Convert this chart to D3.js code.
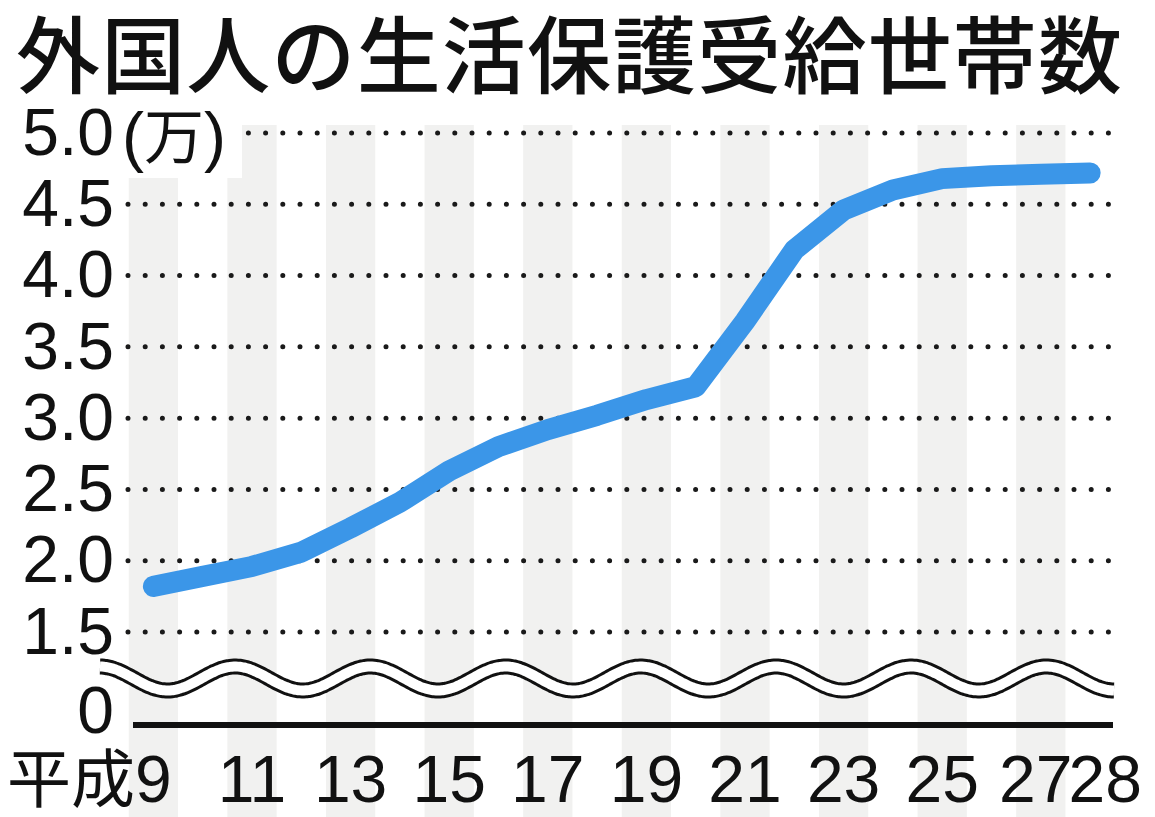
<!DOCTYPE html>
<html>
<head>
<meta charset="utf-8">
<script src="https://cdn.jsdelivr.net/npm/d3@7"></script>
<style>
  body { margin: 0; background: #fff; }
  svg { display: block; }
</style>
</head>
<body>
<svg></svg>
<script>
// 平成9〜28年, 外国人の生活保護受給世帯数 (万)
const years = [9, 10, 11, 12, 13, 14, 15, 16, 17, 18, 19, 20, 21, 22, 23, 24, 25, 26, 27, 28];
const households = [1.82, 1.89, 1.96, 2.06, 2.23, 2.41, 2.63, 2.80, 2.92, 3.02,
                    3.13, 3.22, 3.68, 4.18, 4.46, 4.60, 4.68, 4.70, 4.71, 4.72];
const yTicks = [1.5, 2.0, 2.5, 3.0, 3.5, 4.0, 4.5, 5.0];
const xLabelYears = [9, 11, 13, 15, 17, 19, 21, 23, 25, 27, 28];
const title = "外国人の生活保護受給世帯数";
const unitLabel = "万";
const eraLabel = "平成";

const width = 1155, height = 817;
const numFont = "'Liberation Sans', Arial, sans-serif";
const cjkFont = "'Noto Sans CJK JP', 'Noto Sans CJK SC', sans-serif";

const svg = d3.select("svg")
    .attr("width", width)
    .attr("height", height);

const x = d3.scaleBand()
    .domain(years)
    .range([128.75, 1114.75])
    .padding(0);
const xc = d => x(d) + x.bandwidth() / 2;

const y = d3.scaleLinear()
    .domain([1.5, 5.0])
    .range([632, 133]);

const zeroY = 725;

// alternating stripes on odd years
svg.append("g")
    .selectAll("rect")
    .data(years.filter(d => d % 2 === 1))
    .join("rect")
    .attr("x", d => x(d))
    .attr("y", 125)
    .attr("width", x.bandwidth())
    .attr("height", height - 125)
    .attr("fill", "#f1f1f0");

// dotted gridlines
svg.append("g")
    .selectAll("line")
    .data(yTicks)
    .join("line")
    .attr("x1", 128)
    .attr("x2", 1112)
    .attr("y1", d => y(d))
    .attr("y2", d => y(d))
    .attr("stroke", "#1a1a1a")
    .attr("stroke-width", 5)
    .attr("stroke-linecap", "round")
    .attr("stroke-dasharray", "0 17.2");

// white box behind the unit label
svg.append("rect")
    .attr("x", 118)
    .attr("y", 100)
    .attr("width", 124)
    .attr("height", 78)
    .attr("fill", "#fff");

// title
svg.append("text")
    .attr("x", 16)
    .attr("y", 87)
    .attr("font-family", cjkFont)
    .attr("font-weight", 500)
    .attr("font-size", 84)
    .attr("textLength", 1106)
    .attr("lengthAdjust", "spacing")
    .attr("fill", "#111")
    .text(title);

// y tick labels
svg.append("g")
    .selectAll("text")
    .data(yTicks)
    .join("text")
    .attr("x", 114)
    .attr("y", d => y(d))
    .attr("dy", "0.33em")
    .attr("text-anchor", "end")
    .attr("font-family", numFont)
    .attr("font-size", 66)
    .attr("fill", "#111")
    .text(d3.format(".1f"));

// unit (万)
const unit = svg.append("text")
    .attr("x", 122)
    .attr("y", 159)
    .attr("font-size", 66)
    .attr("fill", "#111");
unit.append("tspan").attr("font-family", numFont).text("(");
unit.append("tspan").attr("font-family", cjkFont).attr("font-size", 60).text(unitLabel);
unit.append("tspan").attr("font-family", numFont).text(")");

// zero label
svg.append("text")
    .attr("x", 114)
    .attr("y", zeroY - 14)
    .attr("dy", "0.33em")
    .attr("text-anchor", "end")
    .attr("font-family", numFont)
    .attr("font-size", 66)
    .attr("fill", "#111")
    .text("0");

// axis break: double wavy line
const waveX0 = 100, waveX1 = 1114, wavePeriod = (waveX1 - waveX0) / 7.5;
const waveMid = 678.5, waveAmp = 12;
const wavePts = d3.range(waveX0, waveX1 + 0.5, 2).map(px =>
    [px, waveMid - waveAmp * Math.cos(2 * Math.PI * (px - waveX0) / wavePeriod)]);
const waveLine = d3.line().curve(d3.curveBasis);
svg.append("path")
    .attr("d", waveLine(wavePts))
    .attr("fill", "none")
    .attr("stroke", "#111")
    .attr("stroke-width", 16);
svg.append("path")
    .attr("d", waveLine(wavePts))
    .attr("fill", "none")
    .attr("stroke", "#fff")
    .attr("stroke-width", 10);

// baseline
svg.append("line")
    .attr("x1", 133)
    .attr("x2", 1113)
    .attr("y1", zeroY)
    .attr("y2", zeroY)
    .attr("stroke", "#111")
    .attr("stroke-width", 6);

// x labels; 27 and 28 are pushed together around the 28 band edge
const xl = svg.append("g")
    .attr("font-family", numFont)
    .attr("font-size", 66)
    .attr("fill", "#111");

const labelX = d => {
    if (d === 9) return xc(d) + 18.4;
    if (d === 27) return x(28) + 7;
    if (d === 28) return x(28) + 3;
    return xc(d);
};
const labelAnchor = d => d === 9 || d === 27 ? "end" : d === 28 ? "start" : "middle";

xl.selectAll("text")
    .data(xLabelYears)
    .join("text")
    .attr("x", labelX)
    .attr("y", 802)
    .attr("text-anchor", labelAnchor)
    .each(function(d) {
        const t = d3.select(this);
        if (d === 9) {
            t.append("tspan").attr("font-family", cjkFont).attr("font-size", 64).text(eraLabel);
        }
        t.append("tspan").text(d);
    });

// data line
const line = d3.line()
    .x((d, i) => xc(years[i]))
    .y(d => y(d));

svg.append("path")
    .datum(households)
    .attr("d", line)
    .attr("fill", "none")
    .attr("stroke", "#3b96e8")
    .attr("stroke-width", 21)
    .attr("stroke-linecap", "round")
    .attr("stroke-linejoin", "round");
</script>
</body>
</html>
